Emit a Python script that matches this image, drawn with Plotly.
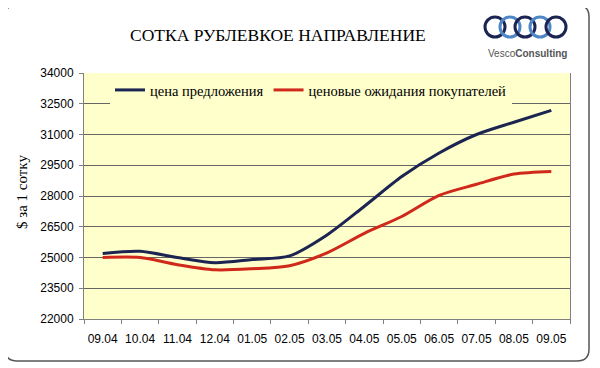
import plotly.graph_objects as go

categories = ["09.04", "10.04", "11.04", "12.04", "01.05", "02.05", "03.05",
              "04.05", "05.05", "06.05", "07.05", "08.05", "09.05"]
offer_price = [25200, 25300, 25000, 24750, 24900, 25080, 26100,
               27500, 28950, 30100, 31000, 31600, 32180]
buyer_expect = [25000, 25000, 24650, 24400, 24450, 24600, 25230,
                26180, 27000, 28030, 28570, 29070, 29200]
series_names = ["цена предложения", "ценовые ожидания покупателей"]
title_text = "СОТКА РУБЛЕВКОЕ НАПРАВЛЕНИЕ"
y_title = "$ за 1 сотку"

# page offset of the figure (default body margin)
OFF = 8
W, H = 592, 360
L, R, T, B = 84 - OFF, 30, 73 - OFF, 49
PW, PH = W - L - R, H - T - B

def px(x):
    return (x - OFF - L) / PW

def py(y):
    return (H - B - (y - OFF)) / PH

SERIF = "Liberation Serif, Times New Roman, serif"
SANS = "Liberation Sans, Arial, sans-serif"

fig = go.Figure()
fig.add_trace(go.Scatter(x=categories, y=offer_price, name=series_names[0], mode="lines",
                         line=dict(color="#1C2552", width=3, shape="spline", smoothing=0.8)))
fig.add_trace(go.Scatter(x=categories, y=buyer_expect, name=series_names[1], mode="lines",
                         line=dict(color="#D0281A", width=3, shape="spline", smoothing=0.8)))

shapes = []
# rounded outer frame
x0, y0, x1, y1, r = 5, 5, 589, 361, 12
path = (f"M {px(x0+r)},{py(y0)} L {px(x1-r)},{py(y0)} Q {px(x1)},{py(y0)} {px(x1)},{py(y0+r)} "
        f"L {px(x1)},{py(y1-r)} Q {px(x1)},{py(y1)} {px(x1-r)},{py(y1)} "
        f"L {px(x0+r)},{py(y1)} Q {px(x0)},{py(y1)} {px(x0)},{py(y1-r)} "
        f"L {px(x0)},{py(y0+r)} Q {px(x0)},{py(y0)} {px(x0+r)},{py(y0)} Z")
shapes.append(dict(type="path", xref="paper", yref="paper", path=path,
                   line=dict(color="#555555", width=1.5), layer="below"))
# logo rings
ring_cx = [495, 510, 525, 540, 556]
ring_col = ["#1C2552", "#4F86C6", "#1C2552", "#4F86C6", "#1C2552"]
for cx, col in zip(ring_cx, ring_col):
    rr = 10
    shapes.append(dict(type="circle", xref="paper", yref="paper",
                       x0=px(cx - rr), x1=px(cx + rr), y0=py(27 + rr), y1=py(27 - rr),
                       line=dict(color=col, width=3)))

annotations = [
    dict(text=title_text, xref="paper", yref="paper", x=px(278), y=py(35),
         showarrow=False, font=dict(family=SERIF, size=17.5, color="#000000"),
         xanchor="center", yanchor="middle"),
    dict(text=y_title, xref="paper", yref="paper", x=px(22), y=py(192),
         showarrow=False, textangle=-90, font=dict(family=SERIF, size=15, color="#000000"),
         xanchor="center", yanchor="middle"),
    dict(text="Vesco<b>Consulting</b>", xref="paper", yref="paper", x=px(527), y=py(53),
         showarrow=False, font=dict(family=SANS, size=10, color="#555555"),
         xanchor="center", yanchor="middle"),
]

fig.update_layout(
    width=W, height=H,
    margin=dict(l=L, r=R, t=T, b=B, autoexpand=False),
    paper_bgcolor="#FFFFFF",
    plot_bgcolor="#FFFFCC",
    shapes=shapes,
    annotations=annotations,
    showlegend=True,
    legend=dict(orientation="h", x=px(110), y=py(74), xanchor="left", yanchor="top",
                bgcolor="#FFFFCC", font=dict(family=SERIF, size=14.5, color="#000000"),
                itemwidth=30, tracegroupgap=0),
    xaxis=dict(type="category", range=[-0.5, 12.5], showgrid=False,
               showline=True, linecolor="#808080", linewidth=1,
               ticks="outside", ticklen=4, tickcolor="#808080", tickson="boundaries",
               tickangle=0, automargin=False, ticklabelstandoff=9,
               tickfont=dict(family=SANS, size=12, color="#000000"), fixedrange=True),
    yaxis=dict(range=[22000, 34000], dtick=1500, tick0=22000, tickformat="d",
               showgrid=True, gridcolor="#666666", gridwidth=1,
               showline=True, linecolor="#808080", linewidth=1, mirror=True,
               ticks="outside", ticklen=4, tickcolor="#808080", automargin=False,
               ticklabelstandoff=3,
               tickfont=dict(family=SANS, size=12, color="#000000"), zeroline=False,
               fixedrange=True),
)

fig.write_html("out.html")
